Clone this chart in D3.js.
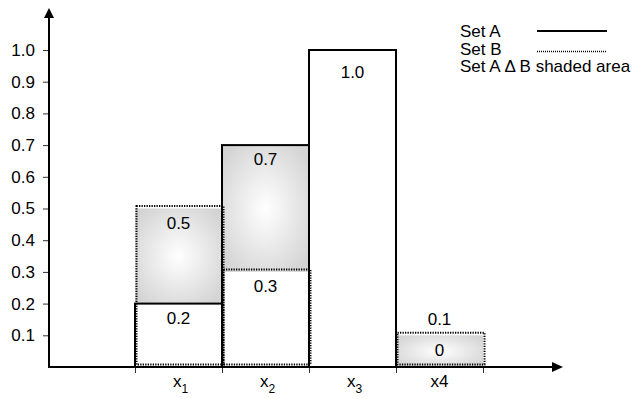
<!DOCTYPE html>
<html>
<head>
<meta charset="utf-8">
<script src="https://cdn.jsdelivr.net/npm/d3@7"></script>
<style>
  html, body { margin: 0; padding: 0; background: #fff; }
  svg { display: block; font-family: "Liberation Sans", Arial, sans-serif; }
</style>
</head>
<body>
<svg id="chart" width="644" height="399"></svg>
<script>
// Elements of the universe and their membership grades
const categories = ["x1", "x2", "x3", "x4"];
const categoryNames = [["x", "1"], ["x", "2"], ["x", "3"], ["x4", ""]];
const setA = [0.2, 0.7, 1.0, 0];
const setB = [0.5, 0.3, 0, 0.1];
// Bins whose difference region is shaded
const shaded = [true, true, false, true];
// Which membership values carry a value label
const labelA = [true, true, true, true];
const labelB = [true, true, false, true];
const yTicks = [0.1, 0.2, 0.3, 0.4, 0.5, 0.6, 0.7, 0.8, 0.9, 1.0];
const legendItems = ["Set A", "Set B", "Set A \u0394 B shaded area"];

const svg = d3.select("#chart");
const FONT = 17;

const x = d3.scaleBand().domain(categories).range([135, 483]).padding(0);
const xEdge = d3.scaleLinear().domain([0, categories.length]).range([135, 483]);
const y = d3.scaleLinear().domain([0, 1]).range([367, 50]);
const axisX0 = 49, axisY0 = y(0);

const defs = svg.append("defs");
const grad = defs.append("radialGradient").attr("id", "shade")
  .attr("cx", "50%").attr("cy", "50%").attr("r", "62%");
grad.append("stop").attr("offset", "0%").attr("stop-color", "#ffffff");
grad.append("stop").attr("offset", "100%").attr("stop-color", "#d4d4d4");

const rows = categories.map((c, i) => ({ c, i, a: setA[i], b: setB[i] }));

// Shaded symmetric-difference regions
svg.append("g").selectAll("rect")
  .data(rows.filter(d => shaded[d.i]))
  .join("rect")
  .attr("x", d => x(d.c))
  .attr("width", x.bandwidth())
  .attr("y", d => y(Math.max(d.a, d.b)))
  .attr("height", d => y(Math.min(d.a, d.b)) - y(Math.max(d.a, d.b)))
  .attr("fill", "url(#shade)");

// Set B: dotted bars
svg.append("g").attr("transform", "translate(1.5,-2.5)")
  .selectAll("rect")
  .data(rows)
  .join("rect")
  .attr("x", d => x(d.c))
  .attr("width", x.bandwidth())
  .attr("y", d => y(d.b))
  .attr("height", d => y(0) - y(d.b))
  .attr("fill", "none")
  .attr("stroke", "#000")
  .attr("stroke-width", 2)
  .attr("stroke-dasharray", "1.3,1.2");

// Set A: solid bars
svg.append("g").selectAll("rect")
  .data(rows.filter(d => d.a > 0))
  .join("rect")
  .attr("x", d => x(d.c))
  .attr("width", x.bandwidth())
  .attr("y", d => y(d.a))
  .attr("height", d => y(0) - y(d.a))
  .attr("fill", "none")
  .attr("stroke", "#000")
  .attr("stroke-width", 2);

// Y axis ticks and labels
const yAxis = svg.append("g")
  .attr("transform", `translate(${axisX0},0)`)
  .call(d3.axisLeft(y).tickValues(yTicks).tickFormat(d3.format(".1f")).tickSize(6).tickPadding(8));
yAxis.select(".domain").remove();
yAxis.selectAll(".tick line").attr("stroke", "#333");
yAxis.selectAll(".tick text").attr("font-size", FONT).attr("font-family", null).attr("fill", "#000");

// X axis bin boundaries
const xAxis = svg.append("g")
  .attr("transform", `translate(0,${axisY0})`)
  .call(d3.axisBottom(xEdge).tickValues(d3.range(categories.length + 1)).tickFormat("").tickSize(6));
xAxis.select(".domain").remove();
xAxis.selectAll(".tick line").attr("stroke", "#333");

// Axis lines with arrow heads
svg.append("line").attr("x1", axisX0).attr("y1", axisY0).attr("x2", axisX0).attr("y2", 16)
  .attr("stroke", "#000").attr("stroke-width", 2);
svg.append("path").attr("d", `M${axisX0},8 L${axisX0 - 5},18 L${axisX0 + 5},18 Z`).attr("fill", "#000");
svg.append("line").attr("x1", axisX0 - 1).attr("y1", axisY0).attr("x2", 553).attr("y2", axisY0)
  .attr("stroke", "#000").attr("stroke-width", 2);
svg.append("path").attr("d", `M563,${axisY0} L552,${axisY0 - 5} L552,${axisY0 + 5} Z`).attr("fill", "#000");

// Category labels with subscripts
const xl = svg.append("g").selectAll("text")
  .data(categories.map((c, i) => ({ c, name: categoryNames[i] })))
  .join("text")
  .attr("x", d => x(d.c) + x.bandwidth() / 2 + (d.name[1] ? 2 : 0))
  .attr("y", 387)
  .attr("text-anchor", "middle")
  .attr("font-size", FONT);
xl.append("tspan").text(d => d.name[0]);
xl.filter(d => d.name[1]).append("tspan")
  .attr("font-size", 12).attr("dy", 6).text(d => d.name[1]);

// Value labels
const fmt = v => v === 0 ? "0" : v.toFixed(1);
const labels = [];
rows.forEach(d => {
  const hi = Math.max(d.a, d.b), lo = Math.min(d.a, d.b);
  const short = y(lo) - y(hi) < 40;
  [[d.a, labelA[d.i]], [d.b, labelB[d.i]]].forEach(([v, on]) => {
    if (!on) return;
    let yy;
    if (v === hi) yy = short ? y(hi) - 10 : y(hi) + 20 + (lo === 0 ? 8 : 0);
    else yy = short ? y(hi) + 21 : y(lo) + 20;
    labels.push({ c: d.c, v, yy });
  });
});
svg.append("g").selectAll("text")
  .data(labels)
  .join("text")
  .attr("x", d => x(d.c) + x.bandwidth() / 2)
  .attr("y", d => d.yy)
  .attr("text-anchor", "middle")
  .attr("font-size", FONT)
  .text(d => fmt(d.v));

// Legend
const lg = svg.append("g");
lg.selectAll("text")
  .data(legendItems)
  .join("text")
  .attr("x", 460)
  .attr("y", (d, i) => 37 + i * 17.5)
  .attr("font-size", FONT)
  .text(d => d);
lg.append("line").attr("x1", 537).attr("x2", 607).attr("y1", 31).attr("y2", 31)
  .attr("stroke", "#000").attr("stroke-width", 2);
lg.append("line").attr("x1", 537).attr("x2", 607).attr("y1", 51.5).attr("y2", 51.5)
  .attr("stroke", "#000").attr("stroke-width", 1.5).attr("stroke-dasharray", "1,1");
</script>
</body>
</html>
